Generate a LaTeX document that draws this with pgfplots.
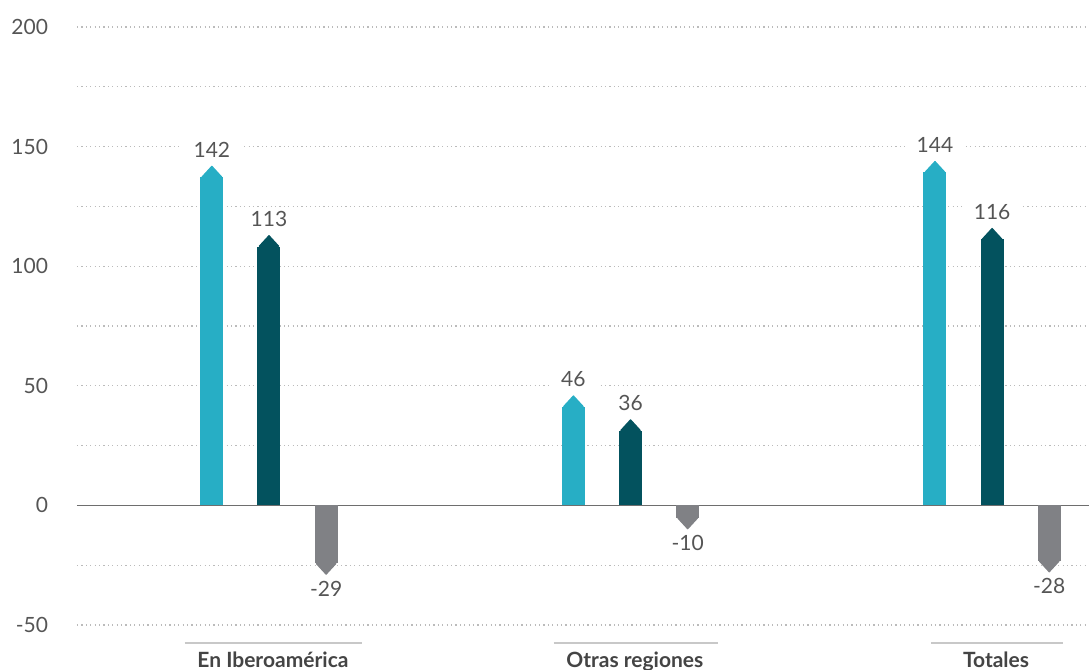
\documentclass[border=0pt]{standalone}
\usepackage{fontspec}
\setmainfont{Lato}
\usepackage{pgfplots}
\pgfplotsset{compat=1.18}
\usetikzlibrary{arrows.meta}

\definecolor{lightteal}{HTML}{27AEC5}
\definecolor{darkteal}{HTML}{03525E}
\definecolor{greybar}{HTML}{808185}
\definecolor{gridgrey}{HTML}{BBBBBB}
\definecolor{zerogrey}{HTML}{6E6E6E}
\definecolor{labelgrey}{HTML}{555555}
\definecolor{catgrey}{HTML}{444444}
\definecolor{rulegrey}{HTML}{C8C8C8}

\begin{document}
\begin{tikzpicture}[
  arrowbar/.style={line width=11.5pt,
    -{Triangle[width=10.9pt,length=6pt,line width=0.6pt,round]}},
  vlabel/.style={font=\fontsize{10.5}{12}\selectfont, text=labelgrey,
    fill=white, inner xsep=6pt, inner ysep=1pt},
]
\begin{axis}[
  scale only axis, width=506pt, height=299pt,
  xmin=-0.531, xmax=2.268,
  ymin=-50, ymax=200,
  clip=false,
  axis line style={draw=none},
  major tick length=0pt, minor tick length=0pt,
  ytick={-50,0,...,200}, minor ytick={-25,25,...,175},
  yticklabels={-50,0,50,100,150,200},
  yticklabel style={font=\fontsize{10.5}{12}\selectfont, text=labelgrey, xshift=-11pt},
  ymajorgrids, yminorgrids,
  major grid style={gridgrey, line width=0.6pt, dash pattern=on 0.6pt off 1.6pt},
  minor grid style={gridgrey, line width=0.6pt, dash pattern=on 0.6pt off 1.6pt},
  extra y ticks={0}, extra y tick labels={},
  extra y tick style={grid=major,
    major grid style={zerogrey, solid, line width=0.75pt}},
  xtick={0.011,1.012,2.011},
  xticklabels={En Iberoamérica, Otras regiones, Totales},
  xticklabel style={font=\bfseries\fontsize{10.5}{12}\selectfont, text=catgrey,
    anchor=base, yshift=-21pt},
]
% En Iberoamérica
\addplot[arrowbar, draw=lightteal] coordinates {(-0.158,0) (-0.158,142)};
\addplot[arrowbar, draw=darkteal]  coordinates {(0,0) (0,113)};
\addplot[arrowbar, draw=greybar]   coordinates {(0.158,0) (0.158,-29)};
% Otras regiones
\addplot[arrowbar, draw=lightteal] coordinates {(0.842,0) (0.842,46)};
\addplot[arrowbar, draw=darkteal]  coordinates {(1,0) (1,36)};
\addplot[arrowbar, draw=greybar]   coordinates {(1.158,0) (1.158,-10)};
% Totales
\addplot[arrowbar, draw=lightteal] coordinates {(1.842,0) (1.842,144)};
\addplot[arrowbar, draw=darkteal]  coordinates {(2,0) (2,116)};
\addplot[arrowbar, draw=greybar]   coordinates {(2.158,0) (2.158,-28)};

% value labels
\addplot[draw=none, mark=none, point meta=explicit symbolic, nodes near coords,
  nodes near coords style={vlabel, anchor=south, yshift=3pt}]
  coordinates {(-0.158,142) [142] (0,113) [113] (0.842,46) [46]
               (1,36) [36] (1.842,144) [144] (2,116) [116]};
\addplot[draw=none, mark=none, point meta=explicit symbolic, nodes near coords,
  nodes near coords style={vlabel, anchor=north, yshift=-2pt}]
  coordinates {(0.158,-29) [-29] (1.158,-10) [-10] (2.158,-28) [-28]};

% rules over the category names
\draw[rulegrey, line width=1pt] ([yshift=-9pt]axis cs:-0.233,-50) -- ([yshift=-9pt]axis cs:0.258,-50);
\draw[rulegrey, line width=1pt] ([yshift=-9pt]axis cs:0.787,-50) -- ([yshift=-9pt]axis cs:1.241,-50);
\draw[rulegrey, line width=1pt] ([yshift=-9pt]axis cs:1.831,-50) -- ([yshift=-9pt]axis cs:2.197,-50);
\end{axis}
\pgfresetboundingbox
\path ([xshift=-38.5pt, yshift=-22.5pt]current axis.south west)
  rectangle ([yshift=13.5pt]current axis.north east);
\end{tikzpicture}
\end{document}
